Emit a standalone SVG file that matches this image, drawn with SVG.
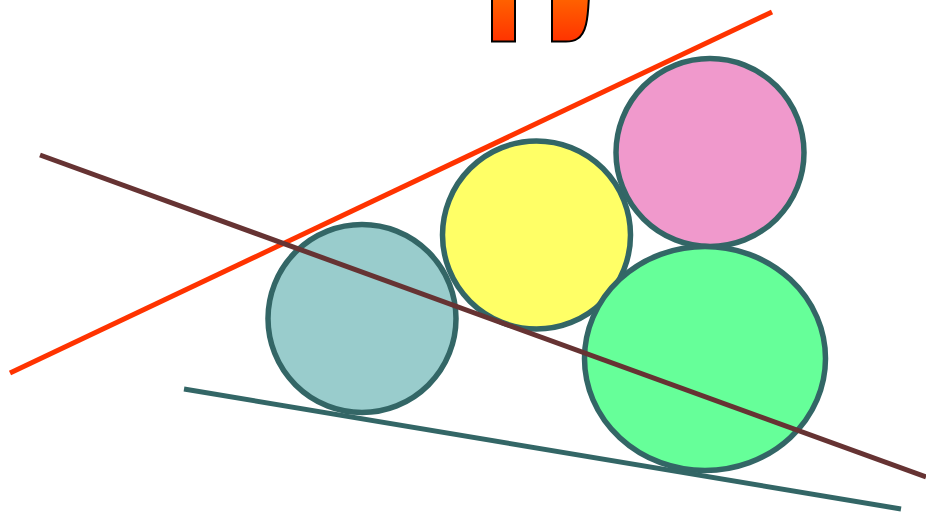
<svg xmlns="http://www.w3.org/2000/svg" width="926" height="514" viewBox="0 0 926 514">
<defs>
<linearGradient id="og" x1="0" y1="0" x2="0" y2="1">
<stop offset="0" stop-color="#FF6600"/>
<stop offset="1" stop-color="#FF3300"/>
</linearGradient>
<style>
.ball{stroke:#336666;stroke-width:5.5}
.ln{fill:none;stroke-width:5;stroke-linecap:butt}
.ttl{fill:url(#og);stroke:#000;stroke-width:2}
</style>
</defs>
<rect width="926" height="514" fill="#fff"/>
<g id="title-fragment">
<rect class="ttl" x="492" y="-5" width="23" height="46.5"/>
<path class="ttl" d="M552,-5 H589 C588,20 586,34 577,39 C574,41 571,41.5 566,41.5 H552 Z"/>
</g>
<g id="circle-teal"><circle class="ball" cx="362" cy="318.5" r="94" fill="#99CCCC"/></g>
<g id="circle-yellow"><circle class="ball" cx="536.5" cy="235" r="94" fill="#FFFF66"/></g>
<g id="circle-pink"><circle class="ball" cx="710" cy="152.5" r="94" fill="#F099CC"/></g>
<g id="circle-green"><ellipse class="ball" cx="705" cy="358.5" rx="120.5" ry="112" fill="#66FF99"/></g>
<g id="connectors">
<line class="ln" x1="10" y1="373" x2="772" y2="12" stroke="#FF3300"/>
<line class="ln" x1="184" y1="389" x2="901" y2="509" stroke="#336666" stroke-width="4.5"/>
<line class="ln" x1="40" y1="155" x2="926" y2="477" stroke="#663333"/>
</g>
</svg>
